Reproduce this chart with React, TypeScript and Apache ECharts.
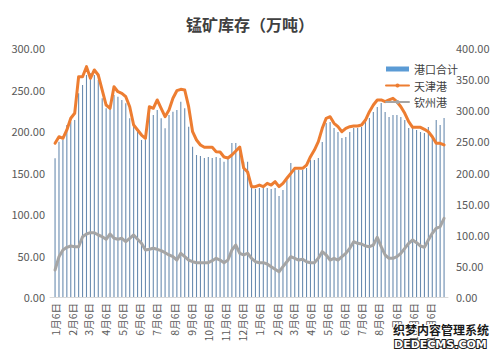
import React, { useEffect, useRef } from "react";
import * as echarts from "echarts";

// ---- data (weekly, starting 1月6日) ----
const START_YEAR = 2017;
const portTotal = [
  167.1, 187.1, 189.2, 207.2, 211.2, 213.2, 245.4, 255.4, 267.5, 269.5,
  267.5, 261.4, 239.4, 227.3, 227.3, 243.4, 241.3, 237.3, 233.4, 215.3,
  205.2, 201.2, 189.2, 189.2, 223.2, 219.3, 225.3, 215.3, 203.2, 219.3,
  223.2, 225.3, 235.3, 227.3, 205.2, 181.1, 171.1, 169.9, 167.5, 168.7,
  167.5, 168.7, 167.5, 163.0, 167.5, 185.5, 185.5, 179.5, 163.0, 163.0,
  131.3, 130.1, 131.3, 132.5, 131.3, 130.1, 131.3, 121.7, 128.9, 141.0,
  161.4, 153.0, 153.0, 153.0, 155.4, 165.1, 165.1, 167.5, 186.7, 209.6,
  210.8, 203.6, 198.8, 191.6, 192.8, 198.8, 203.6, 203.6, 204.8, 210.8,
  215.7, 222.9, 228.9, 233.7, 222.9, 216.9, 219.3, 219.3, 216.9, 213.2,
  203.6, 203.6, 201.2, 198.8, 197.6, 204.8, 192.8, 213.2, 207.2, 215.7,
];
const tianjin = [
  246.9, 257.5, 254.9, 268.3, 287.1, 295.1, 353.9, 353.9, 370.0, 351.3,
  364.7, 356.6, 332.5, 308.4, 303.1, 337.8, 329.8, 327.2, 321.8, 305.7,
  276.3, 268.3, 260.2, 254.9, 305.7, 303.1, 316.5, 303.1, 289.6, 300.4,
  319.2, 331.4, 333.6, 332.5, 305.7, 265.5, 252.2, 244.2, 240.5, 240.5,
  240.5, 233.4, 232.9, 224.9, 223.3, 228.1, 234.5, 241.0, 207.2, 200.8,
  177.2, 177.2, 179.9, 177.2, 182.6, 179.9, 185.2, 177.2, 182.6, 190.7,
  198.7, 206.7, 206.7, 206.7, 212.0, 225.4, 236.1, 249.5, 271.0, 287.1,
  289.6, 279.0, 273.6, 265.5, 271.0, 273.6, 274.7, 274.7, 276.3, 284.3,
  297.7, 308.4, 316.5, 316.5, 313.7, 316.5, 319.2, 313.7, 305.7, 295.1,
  281.6, 272.6, 272.6, 272.6, 269.4, 265.5, 257.5, 246.9, 246.9, 244.2,
];
const qinzhou = [
  43.4, 64.7, 75.5, 79.8, 81.9, 80.8, 80.8, 96.9, 101.2, 103.3,
  103.3, 99.6, 96.9, 92.7, 101.2, 94.3, 92.7, 94.3, 88.8, 94.3,
  99.6, 92.7, 86.3, 75.5, 76.6, 78.2, 76.6, 74.4, 71.2, 67.5,
  64.7, 59.4, 70.2, 64.7, 59.4, 56.7, 55.1, 55.1, 55.1, 55.1,
  58.3, 62.2, 59.4, 55.1, 59.4, 75.5, 83.5, 70.2, 67.5, 70.2,
  62.2, 56.7, 55.1, 55.1, 53.0, 48.7, 44.5, 40.6, 48.7, 56.7,
  64.7, 62.2, 59.4, 60.6, 56.7, 55.1, 55.1, 62.2, 72.8, 67.5,
  59.4, 62.2, 59.4, 64.7, 70.2, 78.2, 88.8, 86.3, 85.1, 81.9,
  80.8, 83.5, 95.9, 80.8, 67.5, 62.2, 62.2, 64.7, 70.2, 78.2,
  86.3, 91.6, 87.2, 81.9, 79.8, 91.6, 102.3, 110.4, 112.9, 126.4,
];
const tickLabels = [
  "1月6日", "2月6日", "3月6日", "4月6日", "5月6日", "6月6日", "7月6日", "8月6日",
  "9月6日", "10月6日", "11月6日", "12月6日", "1月6日", "2月6日", "3月6日", "4月6日",
  "5月6日", "6月6日", "7月6日", "8月6日", "9月6日", "10月6日", "11月6日",
];
const leftTicks = [0, 50, 100, 150, 200, 250, 300];
const rightTicks = [0, 50, 100, 150, 200, 250, 300, 350, 400];

const DAY = 86400000;
const FONT = "'Noto Sans CJK SC', 'Noto Sans', sans-serif";

export default function App() {
  const ref = useRef<HTMLDivElement>(null);
  useEffect(() => {
    if (!ref.current) return;
    const chart = echarts.init(ref.current, undefined, { renderer: "svg" });
    const start = Date.UTC(START_YEAR, 0, 6);
    // x values are day offsets from the first week
    const days = portTotal.map((_, i) => i * 7);
    const tickDays = tickLabels.map((_, i) => Math.round((Date.UTC(START_YEAR, i, 6) - start) / DAY));
    const labelFor = (v: number) => {
      const idx = tickDays.findIndex((t) => Math.abs(t - v) < 0.5);
      return idx >= 0 ? tickLabels[idx] : "";
    };
    chart.setOption({
      animation: false,
      backgroundColor: "#ffffff",
      title: {
        text: "锰矿库存（万吨）",
        left: "center",
        top: 11,
        textStyle: { fontFamily: FONT, fontSize: 16, fontWeight: "bold", color: "#404040" },
      },
      legend: {
        orient: "vertical",
        left: 380,
        top: 57,
        itemWidth: 23,
        itemHeight: 5,
        itemGap: 2.5,
        textStyle: { fontFamily: FONT, fontSize: 11, color: "#404040", lineHeight: 14 },
        data: [
          { name: "港口合计", icon: "rect", itemStyle: { color: "#5b9bd5" } },
          { name: "天津港" },
          { name: "钦州港" },
        ],
      },
      grid: { left: 50, right: 52, top: 48, bottom: 60, containLabel: false },
      xAxis: {
        type: "value",
        min: -9,
        max: days[days.length - 1] + 7,
        axisLine: { show: true, lineStyle: { color: "#d9d9d9", width: 1 } },
        axisTick: { show: false },
        splitLine: { show: false },
        axisLabel: {
          customValues: tickDays,
          rotate: 90,
          margin: 6,
          fontFamily: FONT,
          fontSize: 10.5,
          color: "#595959",
          showMinLabel: true,
          showMaxLabel: true,
          formatter: (v: number) => labelFor(v),
        },
      },
      yAxis: [
        {
          type: "value",
          min: leftTicks[0],
          max: leftTicks[leftTicks.length - 1],
          interval: 50,
          splitLine: { show: false },
          axisLine: { show: false },
          axisTick: { show: false },
          axisLabel: {
            margin: 5,
            fontFamily: FONT,
            fontSize: 11,
            color: "#595959",
            formatter: (v: number) => v.toFixed(2),
          },
        },
        {
          type: "value",
          min: rightTicks[0],
          max: rightTicks[rightTicks.length - 1],
          interval: 50,
          splitLine: { show: false },
          axisLine: { show: false },
          axisTick: { show: false },
          axisLabel: {
            margin: 8,
            fontFamily: FONT,
            fontSize: 11,
            color: "#595959",
            formatter: (v: number) => v.toFixed(2),
          },
        },
      ],
      series: [
        {
          name: "港口合计",
          type: "bar",
          yAxisIndex: 0,
          barWidth: 1.1,
          itemStyle: { color: "#6a8cb0" },
          data: days.map((d, i) => [d, portTotal[i]]),
        },
        {
          name: "天津港",
          type: "line",
          yAxisIndex: 1,
          symbol: "none",
          showSymbol: false,
          itemStyle: { color: "#ed7d31" },
          lineStyle: { color: "#ed7d31", width: 3, join: "round", cap: "round" },
          data: days.map((d, i) => [d, tianjin[i]]),
        },
        {
          name: "钦州港",
          type: "line",
          yAxisIndex: 1,
          symbol: "none",
          showSymbol: false,
          itemStyle: { color: "#a5a5a5" },
          lineStyle: { color: "#a5a5a5", width: 3, join: "round", cap: "round" },
          data: days.map((d, i) => [d, qinzhou[i]]),
        },
      ],
      graphic: [
        {
          type: "text",
          left: 392,
          top: 322,
          z: 100,
          style: {
            text: "织梦内容管理系统",
            fontFamily: FONT,
            fontSize: 12,
            fontWeight: "bold",
            fill: "#1a1a1a",
            stroke: "#ffffff",
            lineWidth: 2,
          },
        },
        {
          type: "text",
          left: 393,
          top: 338,
          z: 100,
          style: {
            text: "DEDECMS.COM",
            fontFamily: "'DejaVu Sans', sans-serif",
            fontSize: 11,
            fontWeight: "bold",
            fill: "#ffffff",
            stroke: "#1a1a1a",
            lineWidth: 2,
          },
        },
      ],
    });
    return () => chart.dispose();
  }, []);
  return (
    <div
      ref={ref}
      style={{ position: "fixed", left: 0, top: 0, width: 500, height: 357, background: "#fff" }}
    />
  );
}
